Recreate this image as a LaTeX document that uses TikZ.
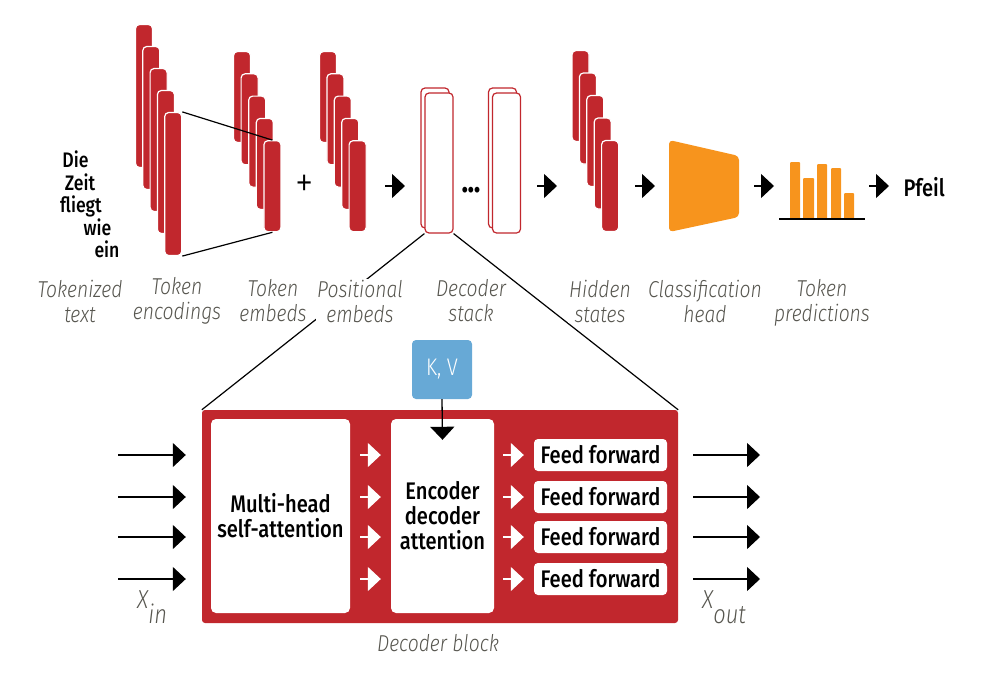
\documentclass[tikz,border=0pt]{standalone}
\usepackage{fontspec}
\setmainfont{Fira Sans Medium}[FakeStretch=0.84]
\newfontfamily\lightfont{Fira Sans Light}[FakeStretch=0.84]
\usetikzlibrary{arrows.meta,calc}
\definecolor{tred}{HTML}{C1272D}
\definecolor{torange}{HTML}{F7941D}
\definecolor{tblue}{HTML}{67A9D6}
\definecolor{tgray}{HTML}{57564F}

\begin{document}
\begin{tikzpicture}[x=1pt, y=-1pt, >={Triangle[length=13pt,width=24pt]},
		every node/.style={font=\fontsize{24}{25}\selectfont},
		bar/.style={rectangle, rounded corners=4pt, fill=tred, draw=white,
			line width=1.2pt, minimum width=17pt, inner sep=0pt},
		stackbox/.style={rectangle, rounded corners=4pt, fill=white, draw=tred,
			line width=1.2pt, minimum width=28pt, minimum height=140pt, inner sep=0pt},
		caption/.style={font=\lightfont\itshape\fontsize{23}{25}\selectfont,
			text=tgray, align=center, fill=white, inner sep=1pt},
		flow/.style={->, line width=1.3pt},
		wflow/.style={->, white, line width=1.3pt},
		ffbox/.style={rectangle, rounded corners=4pt, fill=white, minimum width=133pt,
			minimum height=32pt, inner sep=0pt},
		attbox/.style={rectangle, rounded corners=5pt, fill=white, minimum height=194pt,
			align=center, inner sep=0pt}]
	\useasboundingbox (0,0) rectangle (985,688);

	% tokenized text
	\foreach \w/\x/\y in {Die/75.5/160, Zeit/80/183, fliegt/81/205, wie/97.5/228, ein/107/250}
		\node[anchor=base, font=\fontsize{21}{22}\selectfont] (w-\w) at (\x,\y+7) {\w};

	% stacks of vectors
	\foreach \i in {1,...,5} {
		\node[bar, minimum height=143pt] (enc\i) at ({144+7.3*(\i-1)}, {96+22*(\i-1)}) {};
	}
	\foreach \i in {1,...,5} {
		\node[bar, minimum height=91pt] (emb\i) at ({242+7.6*(\i-1)}, {97+22.3*(\i-1)}) {};
	}
	\foreach \i in {1,...,5} {
		\node[bar, minimum height=91pt] (pos\i) at ({328+7.4*(\i-1)}, {97+22.3*(\i-1)}) {};
	}
	\foreach \i in {1,...,5} {
		\node[bar, minimum height=91pt] (hid\i) at ({580.5+7.4*(\i-1)}, {96+22.5*(\i-1)}) {};
	}
	\draw[line width=1.2pt] (enc5.north east) -- (emb5.north);
	\draw[line width=1.2pt] (enc5.south east) -- (emb5.south);
	\node[font=\lightfont\fontsize{44}{44}\selectfont, inner sep=0pt] (plus) at (305,186) {+};

	% decoder stack
	\node[stackbox] (dec1b) at (435,158) {};
	\node[stackbox] (dec1) at (439,163) {};
	\node[stackbox] (dec2b) at (502.5,158) {};
	\node[stackbox] (dec2) at (506.5,163) {};
	\node[anchor=base, font=\bfseries\fontsize{30}{30}\selectfont] (dots) at (471,192) {...};

	\foreach \x [count=\i] in {385,537,635,754,869} {
		\coordinate (as\i) at (\x,186);
		\coordinate (ae\i) at (\x+20,186);
		\draw[flow] (as\i) -- (ae\i);
	}

	% classification head and predictions
	\fill[torange, rounded corners=4pt] (669,140) -- (739,156) -- (739,217) -- (669,232) -- cycle;
	\foreach \xa/\xb/\t in {790/800/162, 803/814/178, 817/827/164, 831/841/168, 844/854/193}
		\fill[torange, rounded corners=1pt] (\xa,\t) rectangle (\xb,219);
	\draw[line width=1.2pt] (779,219) -- (865,219);
	\node[anchor=west] (pfeil) at (900,187) {Pfeil};

	% zoom into one decoder layer
	\node[fill=tred, rounded corners=3pt, minimum width=476pt, minimum height=213pt,
		inner sep=0pt] (block) at (440,516.5) {};
	\draw[line width=1.2pt] (dec1.south west) -- (block.north west);
	\draw[line width=1.2pt] (dec1.south east) -- (block.north east);

	\node[caption] (c1) at (80,301) {Tokenized\\text};
	\node[caption] (c2) at (177,301) {Token\\encodings};
	\node[caption] (c3) at (273,301) {Token\\embeds};
	\node[caption] (c4) at (360,301) {Positional\\embeds};
	\node[caption] (c5) at (471,301) {Decoder\\stack};
	\node[caption] (c6) at (600,301) {Hidden\\states};
	\node[caption] (c7) at (705,301) {Classification\\head};
	\node[caption] (c8) at (822,303) {Token\\predictions};

	\node[attbox, minimum width=139pt] (mha) at (280.5,516) {Multi-head\\self-attention};
	\node[attbox, minimum width=103pt] (ed) at (442.5,516) {Encoder\\decoder\\attention};
	\node[fill=tblue, rounded corners=4pt, minimum width=60pt, minimum height=59pt,
		inner sep=0pt, text=white, font=\lightfont\fontsize{24}{25}\selectfont] (kv) at (442,369.5) {K, V};
	\draw[flow] (kv.south) -- ($(ed.north)+(0,21)$);

	\foreach \y [count=\i] in {455,497,537,579} {
		\node[ffbox] (ff\i) at (600.5,\y) {Feed forward};
		\coordinate (in\i) at (118,\y);
		\coordinate (out\i) at (760,\y);
		\draw[flow, shorten >=25pt] (in\i) -- (mha.west |- in\i);
		\draw[wflow, shorten <=10pt, shorten >=10pt] (mha.east |- in\i) -- (ed.west |- in\i);
		\draw[wflow, shorten <=9pt, shorten >=10pt] (ed.east |- in\i) -- (ff\i.west);
		\draw[flow, shorten <=26pt] (ff\i.east) -- (out\i);
	}

	\node[caption, fill=none, anchor=base west, font=\lightfont\itshape\fontsize{26}{26}\selectfont]
		(xin) at (136,608) {X\raisebox{-15pt}{in}};
	\node[caption, fill=none, anchor=base west, font=\lightfont\itshape\fontsize{26}{26}\selectfont]
		(xout) at (701,608) {X\raisebox{-15pt}{out}};
	\node[caption, fill=none] (blk) at (438,643) {Decoder block};
\end{tikzpicture}
\end{document}
